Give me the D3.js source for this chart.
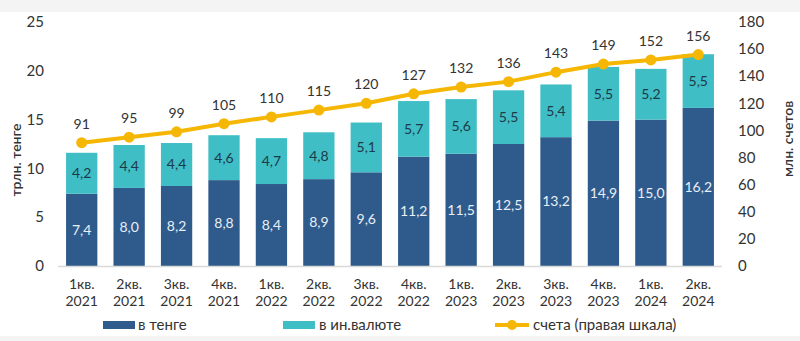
<!DOCTYPE html>
<html>
<head>
<meta charset="utf-8">
<script src="https://cdn.jsdelivr.net/npm/d3@7"></script>
<style>
  body { margin: 0; background: #fff; }
  text { font-family: Lato, "Noto Sans", sans-serif; }
</style>
</head>
<body>
<div id="chart"></div>
<script>
// données
const quarters = ["1кв.", "2кв.", "3кв.", "4кв.", "1кв.", "2кв.", "3кв.", "4кв.", "1кв.", "2кв.", "3кв.", "4кв.", "1кв.", "2кв."];
const years = ["2021", "2021", "2021", "2021", "2022", "2022", "2022", "2022", "2023", "2023", "2023", "2023", "2024", "2024"];
const tenge = [7.4, 8.0, 8.2, 8.8, 8.4, 8.9, 9.6, 11.2, 11.5, 12.5, 13.2, 14.9, 15.0, 16.2];
const foreign = [4.2, 4.4, 4.4, 4.6, 4.7, 4.8, 5.1, 5.7, 5.6, 5.5, 5.4, 5.5, 5.2, 5.5];
const accounts = [91, 95, 99, 105, 110, 115, 120, 127, 132, 136, 143, 149, 152, 156];
const leftTicks = [0, 5, 10, 15, 20, 25];
const rightTicks = [0, 20, 40, 60, 80, 100, 120, 140, 160, 180];

const largeur = 800, hauteur = 341;
const cDark = "#2f5b8c", cTeal = "#40bec6", cLine = "#f6b704";
const fmt = v => d3.format(".1f")(v).replace(".", ",");

const svg = d3.select("#chart").append("svg")
  .attr("width", largeur).attr("height", hauteur);

// bandes grises haut et bas
svg.append("rect").attr("width", largeur).attr("height", 12).attr("fill", "#f4f4f4");
svg.append("rect").attr("y", 336).attr("width", largeur).attr("height", 5).attr("fill", "#f4f4f4");

// échelles
const idx = d3.range(quarters.length);
const x = d3.scaleBand().domain(idx).range([58, 722]).paddingInner(0.34).paddingOuter(0.17);
const yL = d3.scaleLinear().domain([0, 25]).range([266, 22]);
const yR = d3.scaleLinear().domain([0, 180]).range([266, 22]);
const cx = i => x(i) + x.bandwidth() / 2;

// axe gauche
svg.append("g").selectAll("text").data(leftTicks).join("text")
  .attr("x", 44).attr("y", d => yL(d)).attr("dy", "0.35em")
  .attr("text-anchor", "end").attr("font-size", 15).attr("fill", "#333")
  .text(d => d);

// axe droit
svg.append("g").selectAll("text").data(rightTicks).join("text")
  .attr("x", 738).attr("y", d => yR(d)).attr("dy", "0.35em")
  .attr("font-size", 15).attr("fill", "#333")
  .text(d => d);

// titres des axes
svg.append("text").attr("transform", "translate(21,160) rotate(-90)")
  .attr("text-anchor", "middle").attr("font-size", 14).attr("font-weight", 600).attr("fill", "#333")
  .text("трлн. тенге");
svg.append("text").attr("transform", "translate(793,139) rotate(-90)")
  .attr("text-anchor", "middle").attr("font-size", 14).attr("font-weight", 600).attr("fill", "#333")
  .text("млн. счетов");

// barres
svg.append("g").selectAll("rect").data(idx).join("rect")
  .attr("x", i => x(i)).attr("width", x.bandwidth())
  .attr("y", i => yL(tenge[i])).attr("height", i => yL(0) - yL(tenge[i]))
  .attr("fill", cDark);
svg.append("g").selectAll("rect").data(idx).join("rect")
  .attr("x", i => x(i)).attr("width", x.bandwidth())
  .attr("y", i => yL(tenge[i] + foreign[i])).attr("height", i => yL(tenge[i]) - yL(tenge[i] + foreign[i]))
  .attr("fill", cTeal);

// ligne de base
svg.append("line").attr("x1", 58).attr("x2", 722).attr("y1", 266.5).attr("y2", 266.5)
  .attr("stroke", "#d9d9d9").attr("stroke-width", 1.5);

// étiquettes des barres
svg.append("g").selectAll("text").data(idx).join("text")
  .attr("x", cx).attr("y", i => yL(tenge[i] / 2)).attr("dy", "0.35em")
  .attr("text-anchor", "middle").attr("font-size", 14).attr("fill", "#e8eef6")
  .text(i => fmt(tenge[i]));
svg.append("g").selectAll("text").data(idx).join("text")
  .attr("x", cx).attr("y", i => yL(tenge[i] + foreign[i] / 2)).attr("dy", "0.35em")
  .attr("text-anchor", "middle").attr("font-size", 14).attr("fill", "#1d3a4a")
  .text(i => fmt(foreign[i]));

// ligne des comptes
const ligne = d3.line().x(i => cx(i)).y(i => yR(accounts[i]));
svg.append("path").datum(idx).attr("d", ligne)
  .attr("fill", "none").attr("stroke", cLine).attr("stroke-width", 4);
svg.append("g").selectAll("circle").data(idx).join("circle")
  .attr("cx", cx).attr("cy", i => yR(accounts[i])).attr("r", 5.5).attr("fill", cLine);
svg.append("g").selectAll("text").data(idx).join("text")
  .attr("x", cx).attr("y", i => yR(accounts[i]) - 14)
  .attr("text-anchor", "middle").attr("font-size", 14).attr("fill", "#333")
  .text(i => accounts[i]);

// étiquettes de l'axe x
const xl = svg.append("g").selectAll("text").data(idx).join("text")
  .attr("text-anchor", "middle").attr("font-size", 14).attr("fill", "#333");
xl.append("tspan").attr("x", cx).attr("y", 289).text(i => quarters[i]);
xl.append("tspan").attr("x", cx).attr("y", 306).text(i => years[i]);

// légende
const leg = svg.append("g").attr("font-size", 15).attr("fill", "#333");
leg.append("rect").attr("x", 103).attr("y", 321).attr("width", 32).attr("height", 8).attr("fill", cDark);
leg.append("text").attr("x", 138).attr("y", 330).text("в тенге");
leg.append("rect").attr("x", 283).attr("y", 321).attr("width", 32).attr("height", 8).attr("fill", cTeal);
leg.append("text").attr("x", 319).attr("y", 330).text("в ин.валюте");
leg.append("line").attr("x1", 495).attr("x2", 529).attr("y1", 325).attr("y2", 325)
  .attr("stroke", cLine).attr("stroke-width", 4);
leg.append("circle").attr("cx", 512).attr("cy", 325).attr("r", 5).attr("fill", cLine);
leg.append("text").attr("x", 533).attr("y", 330).text("счета (правая шкала)");
</script>
</body>
</html>
